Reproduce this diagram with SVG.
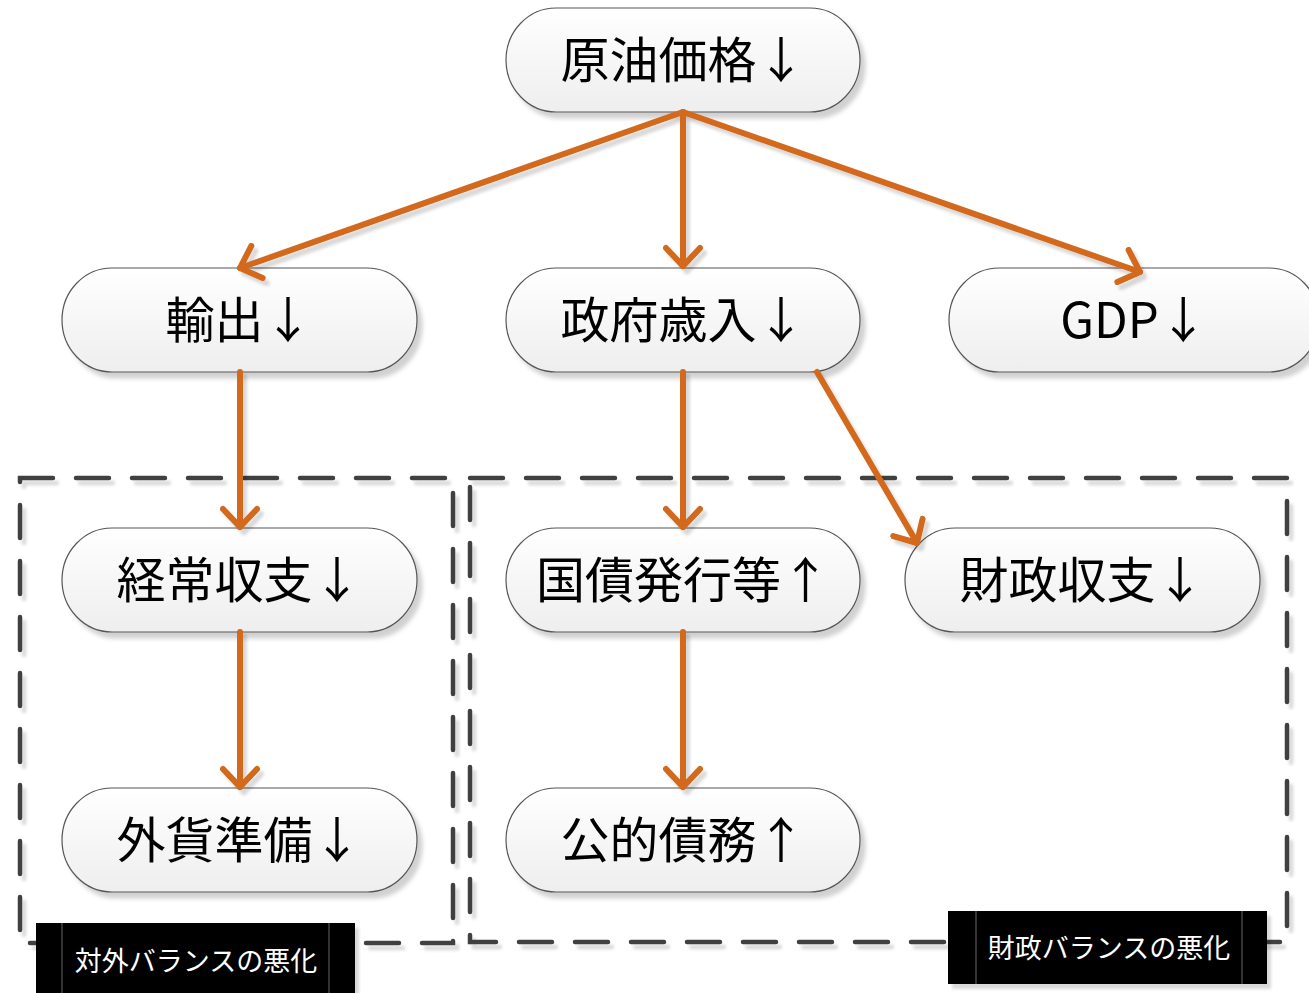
<svg xmlns="http://www.w3.org/2000/svg" width="1309" height="993" viewBox="0 0 1309 993">
<defs>
<linearGradient id="g" x1="0" y1="0" x2="0" y2="1">
<stop offset="0" stop-color="#ffffff"/>
<stop offset="1" stop-color="#eeeeee"/>
</linearGradient>
<filter id="sh" x="-10%" y="-10%" width="130%" height="140%">
<feDropShadow dx="5" dy="6" stdDeviation="2" flood-color="#000" flood-opacity="0.18"/>
</filter>
<filter id="ash" x="-20%" y="-20%" width="140%" height="140%">
<feDropShadow dx="4" dy="5" stdDeviation="1.5" flood-color="#000" flood-opacity="0.15"/>
</filter>
<marker id="ah" markerUnits="userSpaceOnUse" viewBox="0 0 32 40" markerWidth="32" markerHeight="40" refX="27" refY="20" orient="auto">
<path d="M9,3 L27,20 L9,37" fill="none" stroke="#D2691C" stroke-width="6" stroke-linecap="round" stroke-linejoin="round"/>
</marker>
</defs>
<style>
.node rect{fill:url(#g);stroke:#555;stroke-width:1.2;filter:url(#sh)}
.node text{font-family:"Noto Sans CJK JP","Noto Sans",sans-serif;font-size:49px;fill:#000;text-anchor:middle;dominant-baseline:central}
.conn line{stroke:#D2691C;stroke-width:6;stroke-linecap:round;marker-end:url(#ah)}
.box{fill:none;stroke:#404040;stroke-width:4.5;stroke-dasharray:33 23;stroke-linecap:round;filter:url(#ash)}
.lab rect.bg{fill:#000;filter:url(#ash)}
.lab line{stroke:#555;stroke-width:1.2}
.lab text{font-family:"Noto Sans CJK JP","Noto Sans",sans-serif;font-size:27px;fill:#fff;text-anchor:middle;dominant-baseline:central}
</style>
<rect width="1309" height="993" fill="#fff"/>

<g id="groups">
<rect class="box" x="20" y="478" width="433" height="465"/>
<rect class="box" x="470" y="478" width="817" height="464"/>
</g>

<g id="n-oil" class="node"><rect x="506" y="8" width="354" height="104" rx="50" ry="52"/><text x="683" y="56">原油価格↓</text></g>
<g id="n-export" class="node"><rect x="62" y="268" width="355" height="104" rx="50" ry="52"/><text x="239" y="316">輸出↓</text></g>
<g id="n-revenue" class="node"><rect x="506" y="268" width="354" height="104" rx="50" ry="52"/><text x="683" y="316">政府歳入↓</text></g>
<g id="n-gdp" class="node"><rect x="949" y="268" width="370" height="104" rx="50" ry="52"/><text x="1134" y="316">GDP↓</text></g>
<g id="n-current" class="node"><rect x="62" y="528" width="355" height="104" rx="50" ry="52"/><text x="239" y="576">経常収支↓</text></g>
<g id="n-bond" class="node"><rect x="506" y="528" width="354" height="104" rx="50" ry="52"/><text x="683" y="576">国債発行等↑</text></g>
<g id="n-fiscal" class="node"><rect x="905" y="528" width="355" height="104" rx="50" ry="52"/><text x="1082" y="576">財政収支↓</text></g>
<g id="n-reserve" class="node"><rect x="62" y="788" width="355" height="104" rx="50" ry="52"/><text x="239" y="836">外貨準備↓</text></g>
<g id="n-debt" class="node"><rect x="506" y="788" width="354" height="104" rx="50" ry="52"/><text x="683" y="836">公的債務↑</text></g>

<g id="connectors" class="conn" filter="url(#ash)">
<line x1="683" y1="112" x2="240" y2="268"/>
<line x1="683" y1="112" x2="683" y2="266"/>
<line x1="683" y1="112" x2="1140" y2="272"/>
<line x1="240" y1="372" x2="240" y2="527"/>
<line x1="683" y1="372" x2="683" y2="527"/>
<line x1="817" y1="372" x2="917" y2="543"/>
<line x1="240" y1="632" x2="240" y2="787"/>
<line x1="683" y1="632" x2="683" y2="787"/>
</g>

<g id="label-external" class="lab">
<rect class="bg" x="36" y="923" width="319" height="80"/>
<line x1="62" y1="923" x2="62" y2="993"/>
<line x1="329" y1="923" x2="329" y2="993"/>
<text x="196" y="959">対外バランスの悪化</text>
</g>
<g id="label-fiscal" class="lab">
<rect class="bg" x="948" y="911" width="319" height="73"/>
<line x1="976" y1="911" x2="976" y2="984"/>
<line x1="1242" y1="911" x2="1242" y2="984"/>
<text x="1109" y="946">財政バランスの悪化</text>
</g>
</svg>
